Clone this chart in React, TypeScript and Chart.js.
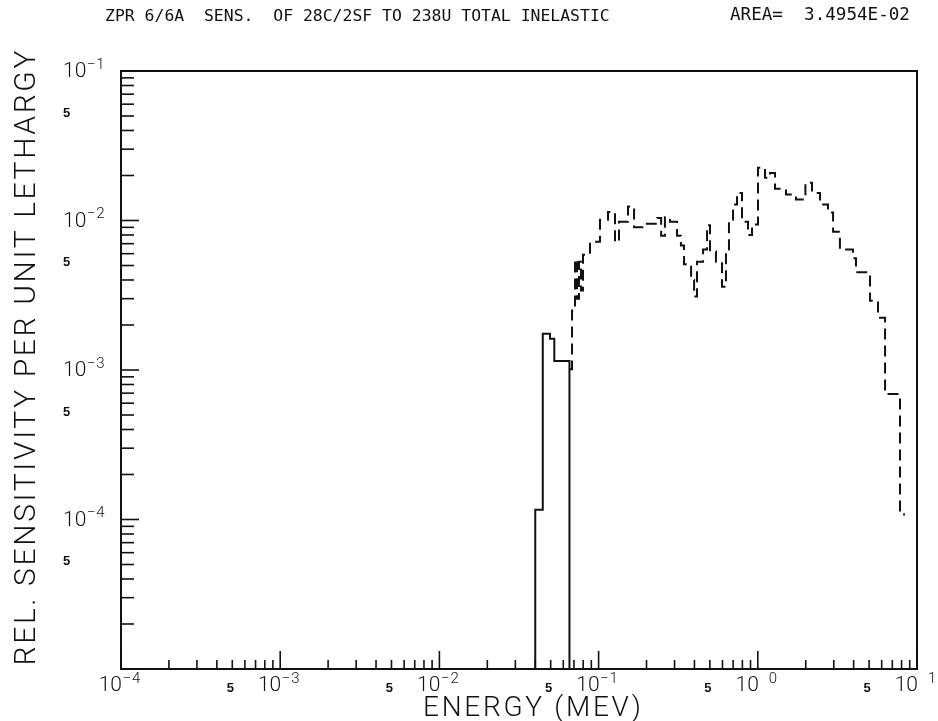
import { useEffect, useRef } from 'react';
import { Chart, registerables } from 'chart.js';

Chart.register(...registerables);

// ---- data (energy in MeV, sensitivity per unit lethargy) ----
const solidEdges = [0.040, 0.0446, 0.0495, 0.0527, 0.0656];
const solidValues = [1.16e-4, 1.75e-3, 1.62e-3, 1.15e-3];

const dashedEdges = [
  0.0661, 0.0681, 0.0711, 0.0732, 0.0753, 0.0775, 0.0798, 0.0883, 0.102, 0.1146,
  0.1268, 0.1343, 0.153, 0.167, 0.196, 0.233, 0.247, 0.261, 0.281, 0.311,
  0.329, 0.344, 0.381, 0.398, 0.415, 0.453, 0.480, 0.501, 0.546, 0.596,
  0.631, 0.659, 0.699, 0.740, 0.796, 0.868, 0.920, 1.003, 1.110, 1.193,
  1.282, 1.504, 1.738, 1.991, 2.19, 2.46, 2.76, 2.97, 3.28, 3.96,
  4.14, 5.07, 5.69, 6.30, 7.82, 8.41,
];
const dashedValues = [
  0.00101, 0.0025, 0.0055, 0.0030, 0.0053, 0.0034, 0.0059, 0.0072, 0.0101, 0.0114,
  0.0072, 0.0098, 0.0124, 0.0090, 0.0095, 0.0104, 0.0079, 0.0105, 0.0098, 0.0079,
  0.0068, 0.0051, 0.0040, 0.0031, 0.0053, 0.0064, 0.0093, 0.0062, 0.0053, 0.0036,
  0.0064, 0.0101, 0.0128, 0.0153, 0.0098, 0.0080, 0.0094, 0.0225, 0.0193, 0.0208,
  0.0163, 0.0149, 0.0138, 0.0179, 0.0153, 0.0128, 0.0113, 0.0084, 0.0064, 0.0056,
  0.0045, 0.0029, 0.00224, 0.00069, 0.000108,
];

// ---- axes ----
const X_MIN = 1e-4;
const X_MAX = 10;
const Y_MIN = 1e-5;
const Y_MAX = 1e-1;
const xDecades = [1e-4, 1e-3, 1e-2, 1e-1, 1, 10];
const xExpSigns = ['\u2212', '\u2212', '\u2212', '\u2212', '', ''];
const xExpDigits = ['4', '3', '2', '1', '0', '1'];
const xFiveTicks = [5e-4, 5e-3, 5e-2, 5e-1, 5];
const yDecades = [1e-1, 1e-2, 1e-3, 1e-4];
const yExpSigns = ['\u2212', '\u2212', '\u2212', '\u2212'];
const yExpDigits = ['1', '2', '3', '4'];
const yFiveTicks = [5e-2, 5e-3, 5e-4, 5e-5];
const minorMultipliers = [2, 3, 4, 5, 6, 7, 8, 9];

const titleText = 'ZPR 6/6A  SENS.  OF 28C/2SF TO 238U TOTAL INELASTIC';
const areaText = 'AREA=  3.4954E-02';
const xTitle = 'ENERGY (MEV)';
const yTitle = 'REL. SENSITIVITY PER UNIT LETHARGY';

function fitFont(ctx: CanvasRenderingContext2D, text: string, family: string, weight: string, target: number) {
  ctx.font = `${weight} 100px ${family}`;
  const w = ctx.measureText(text).width;
  return `${weight} ${(100 * target) / w}px ${family}`;
}

// draw text with letter spacing so that it spans `target` pixels
function spacedText(ctx: any, text: string, font: string, target: number, cx: number, y: number) {
  ctx.font = font;
  ctx.letterSpacing = '0px';
  const w = ctx.measureText(text).width;
  const sp = Math.max(0, (target - w) / (text.length - 1));
  ctx.letterSpacing = `${sp}px`;
  ctx.textAlign = 'left';
  ctx.fillText(text, cx - target / 2, y);
  ctx.letterSpacing = '0px';
}

const plotterPlugin = {
  id: 'plotterAxes',
  afterDraw(chart: any) {
    const { ctx, chartArea: a, scales } = chart;
    const xs = scales.x;
    const ys = scales.y;
    ctx.save();
    ctx.strokeStyle = '#111';
    ctx.fillStyle = '#111';
    ctx.lineWidth = 2;
    // frame
    ctx.strokeRect(a.left, a.top, a.right - a.left, a.bottom - a.top);

    // x ticks (inward)
    ctx.lineWidth = 1.6;
    for (let i = 0; i < xDecades.length; i++) {
      const d = xDecades[i];
      const px = xs.getPixelForValue(d);
      ctx.beginPath();
      ctx.moveTo(px, a.bottom);
      ctx.lineTo(px, a.bottom - 18);
      ctx.stroke();
      for (const m of minorMultipliers) {
        const v = d * m;
        if (v > X_MAX) continue;
        const p = xs.getPixelForValue(v);
        ctx.beginPath();
        ctx.moveTo(p, a.bottom);
        ctx.lineTo(p, a.bottom - 9);
        ctx.stroke();
      }
    }
    // y ticks (inward)
    const yAll = [1e-5, ...yDecades.slice().reverse()];
    for (const d of yAll) {
      const py = ys.getPixelForValue(d);
      ctx.beginPath();
      ctx.moveTo(a.left, py);
      ctx.lineTo(a.left + 18, py);
      ctx.stroke();
      for (const m of minorMultipliers) {
        const v = d * m;
        if (v > Y_MAX) continue;
        const p = ys.getPixelForValue(v);
        ctx.beginPath();
        ctx.moveTo(a.left, p);
        ctx.lineTo(a.left + 13, p);
        ctx.stroke();
      }
    }

    const fam = '"Liberation Sans", Arial, sans-serif';
    const thin = 'Roboto, "Liberation Sans", sans-serif';
    // x labels
    ctx.textBaseline = 'middle';
    for (let i = 0; i < xDecades.length; i++) {
      const px = xs.getPixelForValue(xDecades[i]);
      ctx.font = `300 21px ${thin}`;
      ctx.textAlign = 'right';
      ctx.fillText('10', px + 1, a.bottom + 17);
      ctx.font = `300 15px ${thin}`;
      ctx.textAlign = 'center';
      if (xExpSigns[i]) ctx.fillText(xExpSigns[i], px + 6, a.bottom + 10);
      ctx.textAlign = 'left';
      ctx.fillText(xExpDigits[i], px + 11, a.bottom + 10);
    }
    ctx.font = `bold 13px ${fam}`;
    ctx.textAlign = 'center';
    for (const v of xFiveTicks) {
      const px = xs.getPixelForValue(v);
      ctx.fillText('5', px - 2, a.bottom + 19);
    }
    // y labels
    for (let i = 0; i < yDecades.length; i++) {
      const py = ys.getPixelForValue(yDecades[i]);
      ctx.font = `300 21px ${thin}`;
      ctx.textAlign = 'left';
      ctx.fillText('10', 63, py + 1);
      const w10 = ctx.measureText('10').width;
      ctx.font = `300 15px ${thin}`;
      ctx.textAlign = 'center';
      ctx.fillText(yExpSigns[i], 63 + w10 + 5, py - 6);
      ctx.textAlign = 'left';
      ctx.fillText(yExpDigits[i], 63 + w10 + 10, py - 6);
    }
    ctx.font = `bold 13px ${fam}`;
    ctx.textAlign = 'left';
    for (const v of yFiveTicks) {
      const py = ys.getPixelForValue(v);
      ctx.fillText('5', 63, py - 3);
    }

    // axis titles
    ctx.textBaseline = 'alphabetic';
    spacedText(ctx, xTitle, `300 28px ${thin}`, 218, (a.left + a.right) / 2 + 13, a.bottom + 47);
    ctx.save();
    ctx.translate(35, (a.top + a.bottom) / 2 - 12);
    ctx.rotate(-Math.PI / 2);
    spacedText(ctx, yTitle, `300 30px ${thin}`, 615, 0, 0);
    ctx.restore();

    // header texts
    ctx.textBaseline = 'middle';
    const mono = '"DejaVu Sans Mono", monospace';
    ctx.textAlign = 'left';
    ctx.font = fitFont(ctx, titleText, mono, 'normal', 505);
    ctx.fillText(titleText, 105, 17);
    ctx.font = fitFont(ctx, areaText, mono, 'normal', 180);
    ctx.fillText(areaText, 730, 15);
    ctx.restore();
  },
};

function buildSolid() {
  const pts = [{ x: solidEdges[0], y: Y_MIN }];
  for (let i = 0; i < solidValues.length; i++) pts.push({ x: solidEdges[i], y: solidValues[i] });
  pts.push({ x: solidEdges[solidEdges.length - 1], y: Y_MIN });
  return pts;
}

function buildDashed() {
  const pts: { x: number; y: number }[] = [];
  for (let i = 0; i < dashedValues.length; i++) pts.push({ x: dashedEdges[i], y: dashedValues[i] });
  pts.push({ x: dashedEdges[dashedEdges.length - 1], y: dashedValues[dashedValues.length - 1] });
  return pts;
}

export default function App() {
  const canvasRef = useRef<HTMLCanvasElement | null>(null);
  useEffect(() => {
    if (!canvasRef.current) return;
    const chart = new Chart(canvasRef.current, {
      type: 'line',
      data: {
        datasets: [
          {
            label: 'dashed',
            data: buildDashed(),
            borderColor: '#111',
            borderWidth: 2,
            borderDash: [11, 6],
            pointRadius: 0,
            stepped: true,
            fill: false,
          },
          {
            label: 'solid',
            data: buildSolid(),
            borderColor: '#111',
            borderWidth: 2,
            pointRadius: 0,
            stepped: true,
            fill: false,
          },
        ],
      },
      options: {
        animation: false,
        responsive: true,
        maintainAspectRatio: false,
        layout: { padding: { left: 121, top: 71, right: 21, bottom: 52 } },
        scales: {
          x: { type: 'logarithmic', min: X_MIN, max: X_MAX, display: false },
          y: { type: 'logarithmic', min: Y_MIN, max: Y_MAX, display: false },
        },
        plugins: { legend: { display: false }, tooltip: { enabled: false }, title: { display: false } },
        events: [],
      },
      plugins: [plotterPlugin],
    } as any);
    return () => chart.destroy();
  }, []);
  return (
    <div style={{ position: 'fixed', left: 0, top: 0, width: 938, height: 721, background: '#fff' }}>
      <canvas ref={canvasRef} />
    </div>
  );
}
